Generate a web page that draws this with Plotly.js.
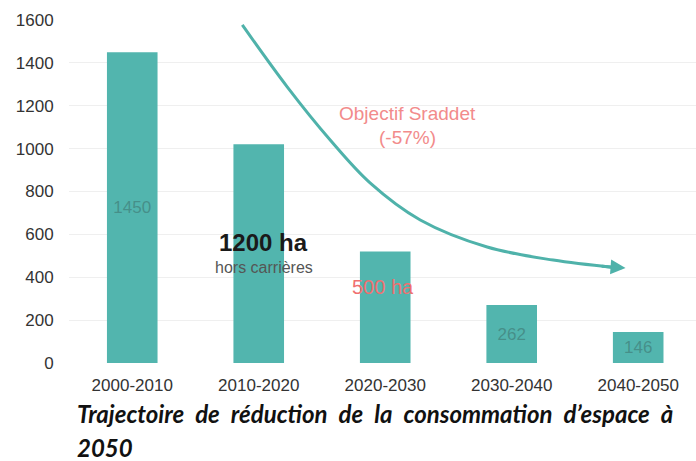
<!DOCTYPE html>
<html>
<head>
<meta charset="utf-8">
<script src="https://cdn.plot.ly/plotly-3.0.1.min.js"></script>
<style>html,body{margin:0;padding:0;background:#fff;overflow:hidden}#chart{width:696px;height:461px}</style>
</head>
<body>
<div id="chart"></div>
<script>
// Data
const categories = ["2000-2010", "2010-2020", "2020-2030", "2030-2040", "2040-2050"];
const values = [1450, 1020, 520, 270, 145];
const barLabels = ["1450", "", "", "262", "146"];
const yTicks = [0, 200, 400, 600, 800, 1000, 1200, 1400, 1600];

// Objective trajectory curve (data coordinates, x in category index)
const curveX = [0.87, 1.225, 1.565, 1.88, 2.277, 2.806, 3.328, 3.80];
const curveY = [1577, 1288, 1040, 840, 667, 541, 480, 446];

const teal = "#52B5AE";
const SP = "\u2002";

const bars = {
  type: "bar",
  x: [0, 1, 2, 3, 4],
  y: values,
  width: 0.4,
  marker: {color: teal, line: {width: 0}},
  text: barLabels,
  textposition: "inside",
  insidetextanchor: "middle",
  textfont: {family: "Liberation Sans, Arial, sans-serif", size: 17, color: "rgba(60,110,105,0.55)"},
  hoverinfo: "skip",
  cliponaxis: false
};

const curve = {
  type: "scatter",
  mode: "lines",
  x: curveX,
  y: curveY,
  line: {color: "#4FB2AA", width: 3, shape: "spline", smoothing: 1},
  hoverinfo: "skip"
};

const titleLine1 = ["Trajectoire", "de", "réduction", "de", "la", "consommation", "d’espace", "à"].join(SP);

const layout = {
  width: 696,
  height: 461,
  margin: {l: 69, r: 0, t: 20, b: 98},
  paper_bgcolor: "#ffffff",
  plot_bgcolor: "#ffffff",
  showlegend: false,
  xaxis: {
    range: [-0.5, 4.457],
    tickmode: "array",
    tickvals: [0, 1, 2, 3, 4],
    ticktext: categories,
    ticks: "outside",
    ticklen: 7,
    tickcolor: "rgba(0,0,0,0)",
    showgrid: false,
    zeroline: false,
    showline: false,
    tickfont: {family: "Liberation Sans, Arial, sans-serif", size: 17, color: "#333333"}
  },
  yaxis: {
    range: [0, 1600],
    tickmode: "array",
    tickvals: yTicks,
    ticktext: yTicks.map(String),
    ticks: "outside",
    ticklen: 11,
    tickcolor: "rgba(0,0,0,0)",
    showgrid: true,
    gridcolor: "#EFEFEF",
    gridwidth: 1,
    zeroline: false,
    showline: false,
    tickfont: {family: "Liberation Sans, Arial, sans-serif", size: 17, color: "#333333"}
  },
  annotations: [
    {x: 3.90, y: 443, ax: 3.70, ay: 452, xref: "x", yref: "y", axref: "x", ayref: "y",
     showarrow: true, arrowhead: 2, arrowsize: 1, arrowwidth: 3, arrowcolor: "#4FB2AA", text: ""},
    {x: 2.18, y: 1165, xref: "x", yref: "y", text: "Objectif Sraddet", showarrow: false,
     font: {family: "Liberation Sans, Arial, sans-serif", size: 19, color: "#F28B8B"}},
    {x: 2.18, y: 1050, xref: "x", yref: "y", text: "(-57%)", showarrow: false,
     font: {family: "Liberation Sans, Arial, sans-serif", size: 19, color: "#F28B8B"}},
    {x: 1.04, y: 560, xref: "x", yref: "y", text: "<b>1200 ha</b>", showarrow: false,
     font: {family: "Liberation Sans, Arial, sans-serif", size: 24, color: "#1a1a1a"}},
    {x: 1.04, y: 446, xref: "x", yref: "y", text: "hors carrières", showarrow: false,
     font: {family: "Liberation Sans, Arial, sans-serif", size: 16, color: "#555555"}},
    {x: 1.98, y: 355, xref: "x", yref: "y", text: "500 ha", showarrow: false,
     font: {family: "Liberation Sans, Arial, sans-serif", size: 20, color: "#F07070"}},
    {x: 75, y: 414, xref: "paper", yref: "paper", text: "<b><i>" + titleLine1 + "</i></b>",
     showarrow: false, xanchor: "left", yanchor: "middle",
     font: {family: "Lato, 'Open Sans', sans-serif", size: 24, color: "#111111"}},
    {x: 75, y: 447, xref: "paper", yref: "paper", text: "<b><i>2050</i></b>",
     showarrow: false, xanchor: "left", yanchor: "middle",
     font: {family: "Lato, 'Open Sans', sans-serif", size: 24, color: "#111111"}}
  ]
};

// convert pixel positions of title annotations into paper fractions
const plotW = 696 - 69, plotH = 461 - 20 - 98;
layout.annotations.forEach(a => {
  if (a.xref === "paper") {
    a.x = (a.x - 69) / plotW;
    a.y = (461 - 98 - a.y) / plotH;
  }
});

Plotly.newPlot("chart", [bars, curve], layout, {displayModeBar: false, staticPlot: true});
</script>
</body>
</html>
